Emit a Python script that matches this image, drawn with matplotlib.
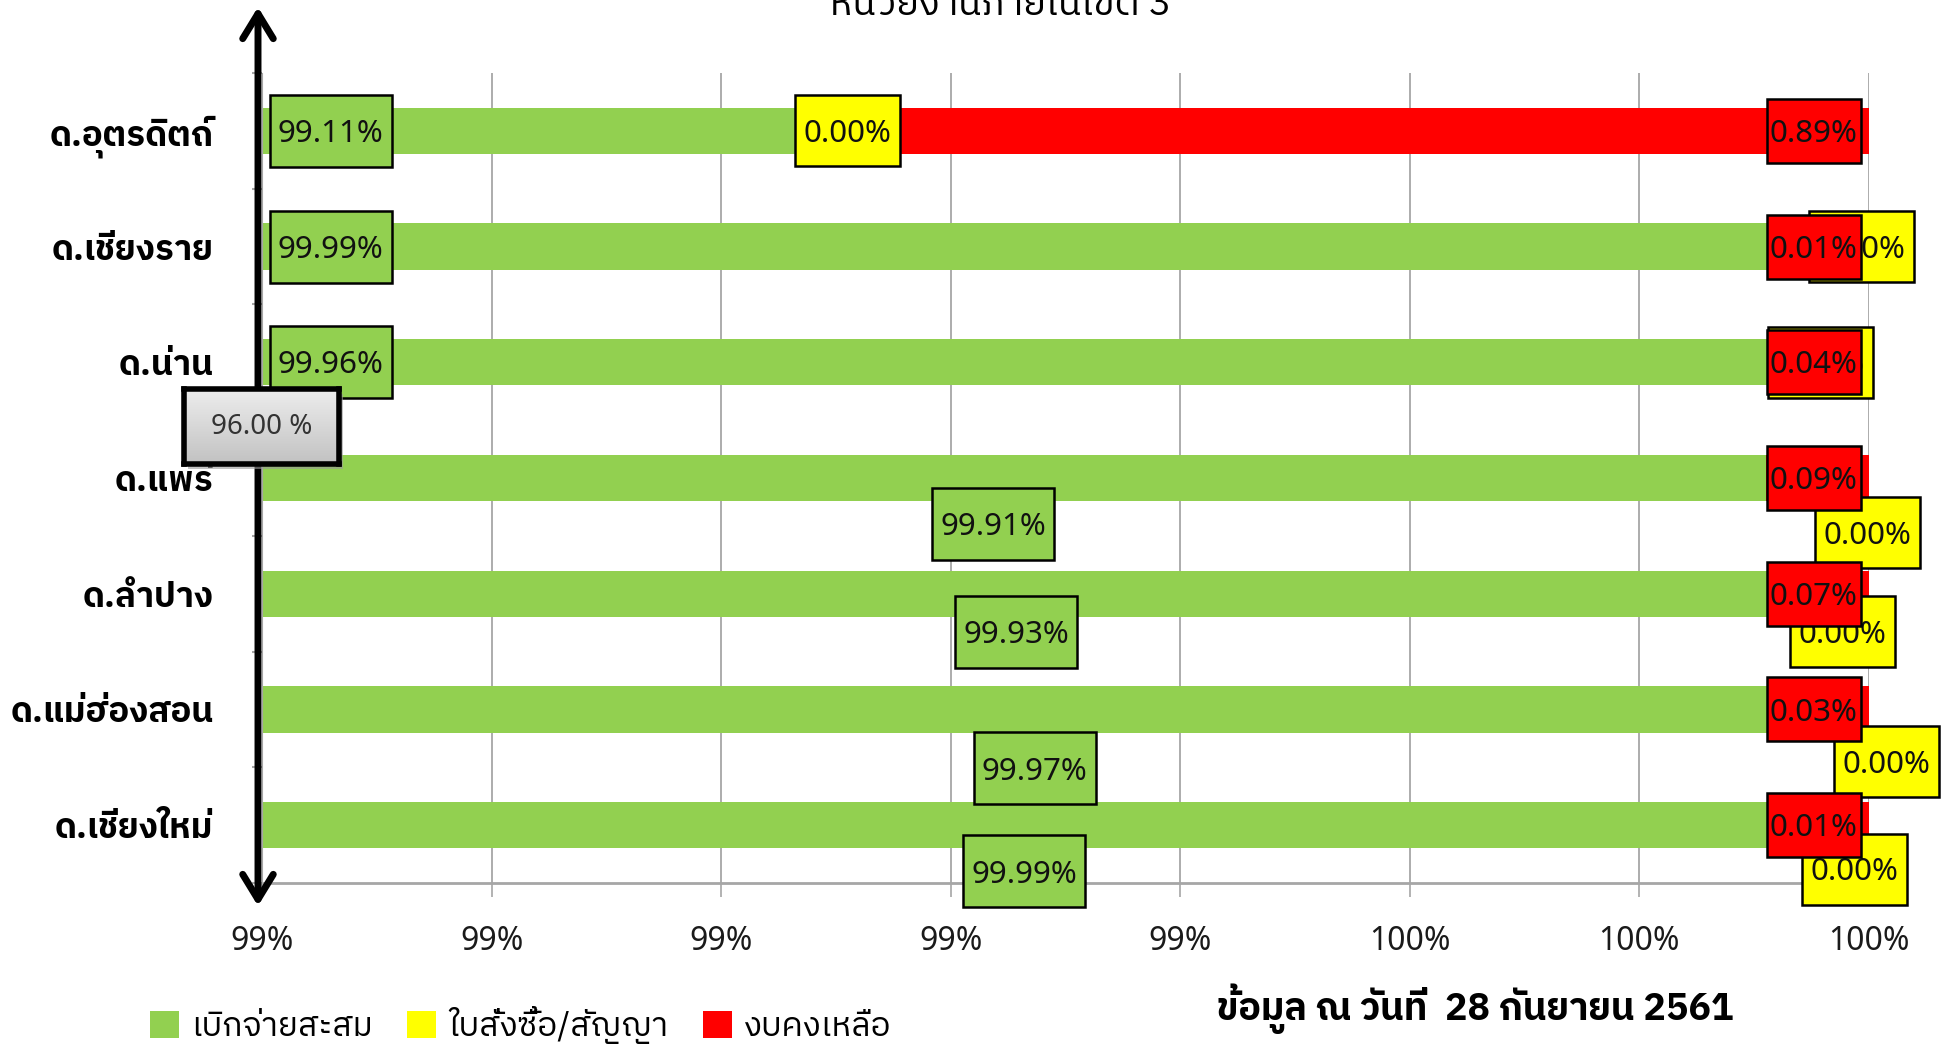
import numpy as np
import matplotlib
matplotlib.use('Agg')
import matplotlib.pyplot as plt
from matplotlib import font_manager as fm
from matplotlib.patches import Rectangle
import matplotlib.transforms as mtransforms

# ---------------- data ----------------
categories = ['ด.อุตรดิตถ์', 'ด.เชียงราย', 'ด.น่าน', 'ด.แพร่', 'ด.ลำปาง', 'ด.แม่ฮ่องสอน', 'ด.เชียงใหม่']
disbursed = [99.11, 99.99, 99.96, 99.91, 99.93, 99.97, 99.99]
contract = [0.00, 0.00, 0.00, 0.00, 0.00, 0.00, 0.00]
remaining = [0.89, 0.01, 0.04, 0.09, 0.07, 0.03, 0.01]
series_names = ['เบิกจ่ายสะสม', 'ใบสั่งซื้อ/สัญญา', 'งบคงเหลือ']
x_ticks = [98.6, 98.8, 99.0, 99.2, 99.4, 99.6, 99.8, 100.0]
x_tick_labels = ['99%', '99%', '99%', '99%', '99%', '100%', '100%', '100%']
title_text = 'หน่วยงานภายในเขต 3'
date_note = 'ข้อมูล ณ วันที่  28 กันยายน 2561'
target_label = '96.00 %'

# label placement (x in axis units, dy in category units)
green_lab_x = [98.660, 98.660, 98.660, 99.237, 99.257, 99.273, 99.264]
green_lab_dy = [0, 0, 0, 0.40, 0.33, 0.51, 0.40]
yellow_lab_x = [99.110, 99.9935, 99.958, 99.999, 99.977, 100.015, 99.987]
yellow_lab_dy = [0, 0, 0, 0.47, 0.33, 0.45, 0.38]
red_lab_x = [99.952] * 7
red_lab_dy = [0] * 7

GREEN, YELLOW, RED = '#92D050', '#FFFF00', '#FF0000'


# ---------------- fonts ----------------
def find_thai_family():
    try:
        from fontTools.ttLib import TTFont
    except Exception:
        return None
    ents = list(fm.fontManager.ttflist)
    ents.sort(key=lambda f: (0 if 'thai' in f.name.lower() else 1,
                             1 if 'cjk' in f.name.lower() else 0))
    seen = set()
    for f in ents:
        if f.name in seen:
            continue
        seen.add(f.name)
        try:
            kw = {'fontNumber': 0} if f.fname.lower().endswith('.ttc') else {}
            tt = TTFont(f.fname, lazy=True, **kw)
            cmap = tt.getBestCmap()
            if cmap and 0x0E01 in cmap and 0x0E40 in cmap and 0x0E48 in cmap:
                return f.name
        except Exception:
            continue
    return None


thai = find_thai_family()
THAI_FAM = ([thai] if thai else []) + ['DejaVu Sans']
NUM_FAM = ['Noto Sans', 'DejaVu Sans']
plt.rcParams['font.family'] = THAI_FAM

DPI = 100
fig = plt.figure(figsize=(19.54, 10.45), dpi=DPI)
ax = fig.add_axes([262 / 1954, 1 - 883 / 1045, (1869 - 262) / 1954, (883 - 73) / 1045])

y = np.arange(len(categories))
left2 = [a + b for a, b in zip(disbursed, contract)]
b1 = ax.barh(y, disbursed, height=0.4, color=GREEN, zorder=2, label=series_names[0])
b2 = ax.barh(y, contract, left=disbursed, height=0.4, color=YELLOW, zorder=2, label=series_names[1])
b3 = ax.barh(y, remaining, left=left2, height=0.4, color=RED, zorder=2, label=series_names[2])

ax.set_xlim(x_ticks[0], x_ticks[-1])
ax.set_ylim(len(categories) - 0.5, -0.5)
ax.set_xticks(x_ticks)
ax.set_xticklabels(x_tick_labels, family=NUM_FAM, fontsize=23, color='#1a1a1a')
ax.tick_params(axis='x', direction='out', length=10, width=1.2, color='#A6A6A6', pad=20)

ax.set_yticks(y)
ax.set_yticklabels(categories, fontsize=25, fontweight='bold', color='black')
ax.tick_params(axis='y', which='major', length=0, pad=35)
ax.set_yticks(np.arange(len(categories) + 1) - 0.5, minor=True)
ax.tick_params(axis='y', which='minor', length=7, width=1.5, color='#A6A6A6', direction='out')

ax.grid(axis='x', color='#A6A6A6', lw=1.3, zorder=0)
ax.set_axisbelow(True)
for s in ['top', 'right']:
    ax.spines[s].set_visible(False)
ax.spines['left'].set_color('#A6A6A6')
ax.spines['bottom'].set_color('#A6A6A6')
ax.spines['bottom'].set_linewidth(2)

LAB_FS = 22.5
CAP_SHIFT = -0.714 * LAB_FS / 2  # points, to center digits vertically


def boxed(x, yy, text, w_px, h_px, fc, z):
    trans = fig.dpi_scale_trans + mtransforms.ScaledTranslation(x, yy, ax.transData)
    ax.add_patch(Rectangle((-w_px / 2 / DPI, -h_px / 2 / DPI), w_px / DPI, h_px / DPI,
                           transform=trans, fc=fc, ec='black', lw=1.8, zorder=z, clip_on=False))
    ttrans = mtransforms.offset_copy(ax.transData, fig=fig, x=0, y=CAP_SHIFT, units='points')
    ax.text(x, yy, text, ha='center', va='baseline', fontsize=LAB_FS, family=NUM_FAM,
            color='#111111', zorder=z + 0.5, clip_on=False, transform=ttrans)


for i in range(len(categories)):
    boxed(green_lab_x[i], y[i] + green_lab_dy[i], f'{disbursed[i]:.2f}%', 122, 72, GREEN, 5)
for i in range(len(categories)):
    boxed(yellow_lab_x[i], y[i] + yellow_lab_dy[i], f'{contract[i]:.2f}%', 105, 71, YELLOW, 6)
for i in range(len(categories)):
    boxed(red_lab_x[i], y[i] + red_lab_dy[i], f'{remaining[i]:.2f}%', 94, 64, RED, 7)

# double arrow along the y axis
ax.annotate('', xy=(258 / 1954, 1 - 906 / 1045), xytext=(258 / 1954, 1 - 7 / 1045),
            xycoords='figure fraction', textcoords='figure fraction',
            arrowprops=dict(arrowstyle='<->,head_length=0.9,head_width=0.55', lw=5,
                            color='black', shrinkA=0, shrinkB=0, mutation_scale=20),
            annotation_clip=False, zorder=10)

# target box "96.00 %"
sh = fig.add_axes([188 / 1954, 1 - 469 / 1045, 155 / 1954, 75 / 1045], zorder=19)
sh.set_facecolor('#9a9a9a')
sh.set_xticks([]); sh.set_yticks([])
for s in sh.spines.values():
    s.set_visible(False)
sh.patch.set_alpha(0.6)
tb = fig.add_axes([184 / 1954, 1 - 464 / 1045, 155 / 1954, 75 / 1045], zorder=20)
grad = np.linspace(0.93, 0.76, 64).reshape(-1, 1)
tb.imshow(np.dstack([grad, grad, grad]), aspect='auto', extent=[0, 1, 0, 1], origin='upper')
tb.set_xlim(0, 1); tb.set_ylim(0, 1)
tb.set_xticks([]); tb.set_yticks([])
for s in tb.spines.values():
    s.set_linewidth(4)
    s.set_color('black')
tb.text(0.5, 0.5, target_label, ha='center', va='center', fontsize=20, family=NUM_FAM, color='#333333')

# title (partially cut at top)
fig.text(1001 / 1954, 1 - 15 / 1045, title_text, ha='center', va='baseline', fontsize=27.5, color='black')

# legend
leg = fig.legend(handles=[b1, b2, b3], labels=series_names, ncol=3, loc='center left',
                 bbox_to_anchor=(150 / 1954, 1 - 1025 / 1045), frameon=False, fontsize=24,
                 handlelength=0.87, handleheight=0.87, handletextpad=0.35, columnspacing=1.05,
                 borderpad=0, borderaxespad=0)

# date note
fig.text(1475 / 1954, 1 - 1009 / 1045, date_note, ha='center', va='center', fontsize=27,
         fontweight='bold', color='black')

fig.savefig('out.png', dpi=DPI)
